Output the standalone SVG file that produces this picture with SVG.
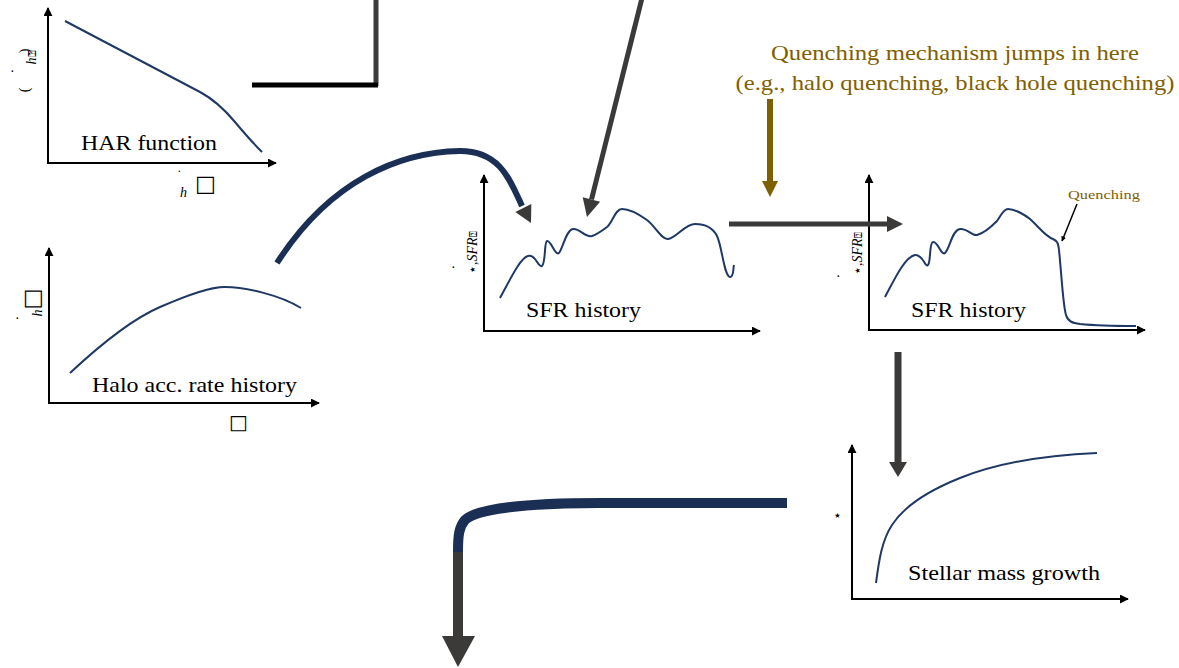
<svg xmlns="http://www.w3.org/2000/svg" width="1179" height="668" viewBox="0 0 1179 668">
<defs>
<marker id="ax" viewBox="0 0 10 10" refX="9" refY="5" markerWidth="5" markerHeight="5" orient="auto" markerUnits="userSpaceOnUse">
<path d="M0,0 L10,5 L0,10 Z" fill="#000"/>
</marker>
<marker id="ax2" viewBox="0 0 10 10" refX="9" refY="5" markerWidth="9" markerHeight="9" orient="auto" markerUnits="userSpaceOnUse">
<path d="M0,0 L10,5 L0,10 Z" fill="#000"/>
</marker>
</defs>
<style>
.axis{stroke:#000;stroke-width:2;fill:none;marker-end:url(#ax2)}
.curve{stroke:#1f3864;stroke-width:2;fill:none}
.lbl{font-family:'Liberation Serif',serif;font-size:21px;fill:#000}
.math{font-family:'Liberation Serif','DejaVu Serif',serif;font-size:14px;fill:#000}
.box{font-family:'DejaVu Sans',sans-serif;fill:#000}
.brown{font-family:'Liberation Serif',serif;fill:#7f6000}
.gray{stroke:#3b3a38;fill:none}
.navy{stroke:#1b2f54;fill:none}
.head{fill:#3b3a38}
</style>
<rect width="1179" height="668" fill="#fff"/>

<g id="har-function">
<path class="axis" d="M48,164 L48,8"/>
<path class="axis" d="M47,163 L276,163"/>
<path class="curve" d="M65,21 L200,92 C215,100 225,110 235,122 C245,134 255,145 262,152"/>
<text class="lbl" style="font-family:'Liberation Serif',serif" x="81" y="150" textLength="136" lengthAdjust="spacingAndGlyphs">HAR function</text>
<text class="math" x="177" y="180">˙</text>
<text class="math" x="180" y="197" font-style="italic">h</text>
<text class="box" x="195" y="191" font-size="22">□</text>
<text class="math" font-size="19" text-anchor="middle" transform="translate(29,90) rotate(-90)">(</text>
<text class="math" font-size="19" text-anchor="middle" transform="translate(29,51) rotate(-90)">)</text>
<text class="math" font-style="italic" text-anchor="middle" transform="translate(36,61) rotate(-90)">h</text>
<text class="box" font-size="11" text-anchor="middle" transform="translate(36,53) rotate(-90)">⍰</text>
<text class="math" x="10" y="76">·</text>
</g>

<g id="halo-acc-rate">
<path class="axis" d="M49,404 L49,248"/>
<path class="axis" d="M48,403 L319,403"/>
<path class="curve" d="M70,373 C100,345 130,320 160,307 C190,294 210,287 225,287 C245,287 280,295 301,308"/>
<text class="lbl" style="font-family:'Liberation Serif',serif" x="92" y="392" textLength="205" lengthAdjust="spacingAndGlyphs">Halo acc. rate history</text>
<text class="math" font-style="italic" text-anchor="middle" transform="translate(42,313) rotate(-90)">h</text>
<text class="box" font-size="22" text-anchor="middle" transform="translate(39,299) rotate(-90)">□</text>
<text class="math" x="15" y="323">·</text>
<text class="box" x="229" y="429" font-size="20">□</text>
</g>

<g id="sfr-history-1">
<path class="axis" d="M484,332 L484,175"/>
<path class="axis" d="M483,331 L760,331"/>
<path class="curve" d="M500,298 C510,280 520,258 528,256 C536,254 538,268 542,266 C546,262 544,242 547,241 C551,240 555,256 559,253 C563,248 566,230 573,229 C580,228 585,238 592,236 C598,234 603,230 607,227 C613,222 615,209 622,209 C630,209 640,215 647,220 C655,226 662,240 668,239 C676,238 685,224 695,224 C705,224 713,228 717,236 C722,246 724,276 730,277 C734,277 733,268 734,265"/>
<text class="lbl" style="font-family:'Liberation Serif',serif" x="526" y="317" textLength="115" lengthAdjust="spacingAndGlyphs">SFR history</text>
<text class="math" font-size="15" transform="translate(477,274) rotate(-90)">⋆,<tspan font-style="italic">SFR</tspan><tspan class="box" font-size="10">⍰</tspan></text>
<text class="math" x="451" y="272">·</text>
</g>

<g id="sfr-history-2">
<path class="axis" d="M869,331 L869,175"/>
<path class="axis" d="M868,330 L1145,330"/>
<path class="curve" d="M885,297 C895,278 905,257 915,255 C923,254 925,268 928,265 C931,262 929,243 933,242 C938,241 941,256 945,253 C950,248 952,230 960,229 C967,228 972,236 977,235 C985,233 992,226 997,221 C1001,216 1003,209 1008,209 C1015,209 1025,215 1030,219 C1040,228 1045,236 1053,239 C1057,241 1058,242 1059,250 C1062,280 1063,305 1066,315 C1068,322 1073,323 1080,324 C1100,326 1120,326 1136,326"/>
<text class="lbl" style="font-family:'Liberation Serif',serif" x="911" y="317" textLength="115" lengthAdjust="spacingAndGlyphs">SFR history</text>
<text class="math" font-size="15" transform="translate(862,275) rotate(-90)">⋆,<tspan font-style="italic">SFR</tspan><tspan class="box" font-size="10">⍰</tspan></text>
<text class="math" x="836" y="281">·</text>
<text class="brown" x="1068" y="199" font-size="13" textLength="72" lengthAdjust="spacingAndGlyphs">Quenching</text>
<line x1="1077" y1="204" x2="1062" y2="241" stroke="#000" stroke-width="1.5" marker-end="url(#ax)"/>
</g>

<g id="stellar-mass">
<path class="axis" d="M852,600 L852,445"/>
<path class="axis" d="M851,599 L1128,599"/>
<path class="curve" d="M876,583 C879,560 882,540 892,525 C905,505 930,490 960,478 C1000,462 1050,455 1097,453"/>
<text class="lbl" style="font-family:'Liberation Serif',serif" x="908" y="580" textLength="192" lengthAdjust="spacingAndGlyphs">Stellar mass growth</text>
<text class="math" x="833" y="520" font-size="12">⋆</text>
</g>

<g id="quench-note">
<text class="brown" x="955" y="60" font-size="22" text-anchor="middle" textLength="368" lengthAdjust="spacingAndGlyphs">Quenching mechanism jumps in here</text>
<text class="brown" x="955" y="90" font-size="22" text-anchor="middle" textLength="439" lengthAdjust="spacingAndGlyphs">(e.g., halo quenching, black hole quenching)</text>
</g>

<g id="connectors">
<line x1="376" y1="0" x2="376" y2="86" stroke="#3b3a38" stroke-width="5"/>
<line x1="252" y1="85" x2="378" y2="85" stroke="#000" stroke-width="5"/>
<line class="gray" x1="642" y1="-2" x2="591.5" y2="199.5" stroke-width="5"/>
<polygon class="head" points="600.1,201.7 582.7,197.3 587,217"/>
<path class="navy" d="M277,263 C330,180 400,152 460,151 C500,151 510,180 522,206" stroke-width="6"/>
<polygon class="head" points="531.3,203.9 515.3,211.9 531,223"/>
<line x1="770" y1="99" x2="770" y2="183" stroke="#7f6000" stroke-width="6"/>
<polygon fill="#7f6000" points="762,181 778,181 770,197"/>
<line class="gray" x1="729" y1="224" x2="889" y2="224" stroke-width="5"/>
<polygon class="head" points="887,216 887,232 903,224"/>
<line class="gray" x1="898" y1="352" x2="898" y2="463" stroke-width="7"/>
<polygon class="head" points="889,462 907,462 898,477"/>
<path class="navy" d="M787,503 L600,503 C520,503 475,510 465,520 C459,527 458,535 458,552" stroke-width="10"/>
<line class="gray" x1="458" y1="552" x2="458" y2="638" stroke-width="10"/>
<polygon class="head" points="442,636 475,636 458,667"/>
</g>
</svg>
